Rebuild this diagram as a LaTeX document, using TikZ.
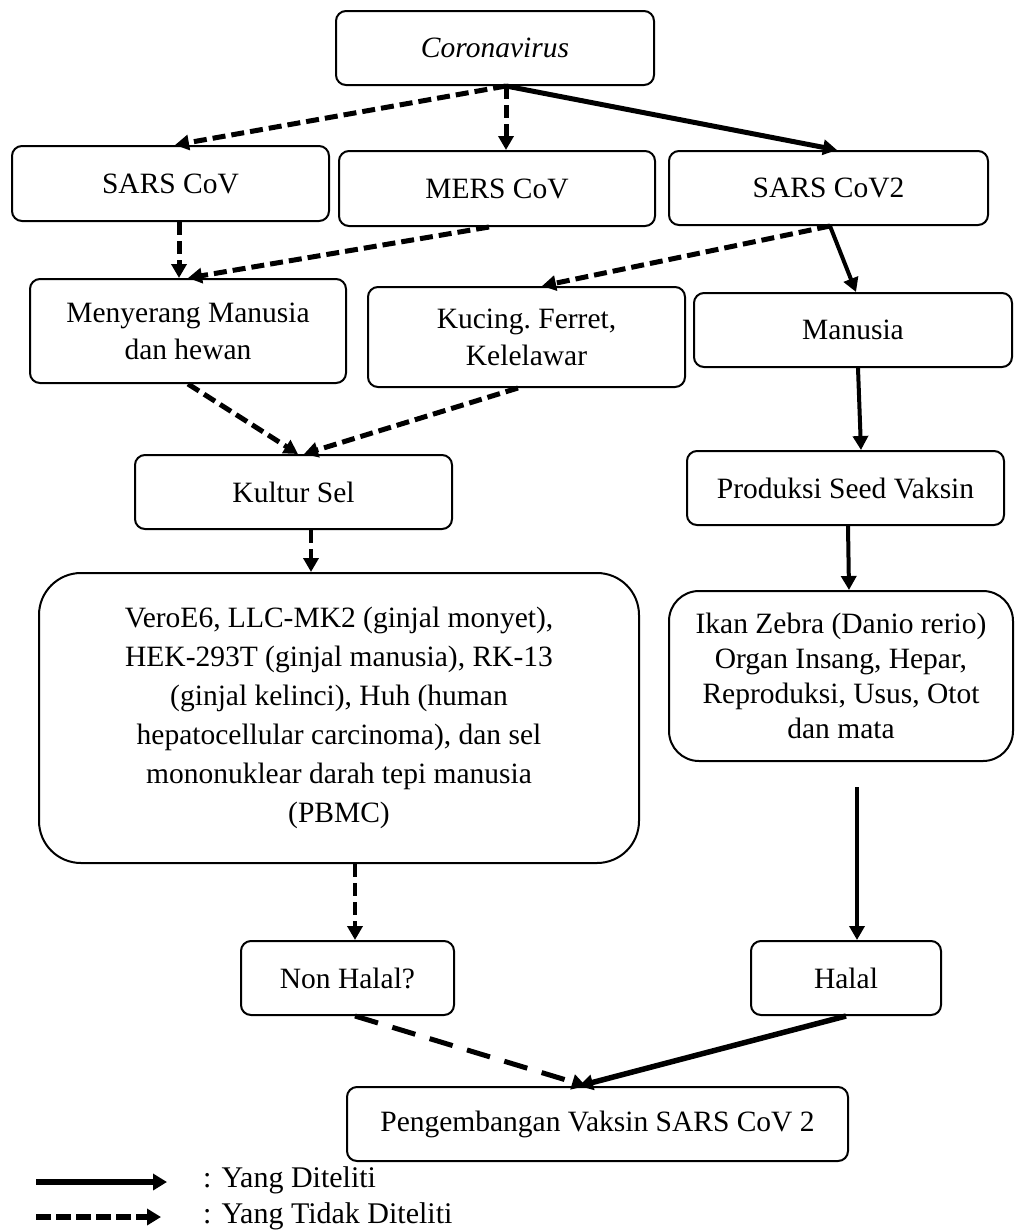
\documentclass[tikz,border=0pt]{standalone}
\usepackage{fontspec}
\setmainfont{Liberation Serif}
\usetikzlibrary{arrows.meta,calc}
\begin{document}
\begin{tikzpicture}[x=1pt,y=-1pt,
  box/.style={draw,line width=2pt,rounded corners=10pt,inner sep=0pt,align=center,
    font=\fontsize{29.5}{37}\selectfont},
  solidarr/.style={line width=4pt,-{Triangle[length=14pt,width=15pt]}},
  dasharr/.style={line width=5pt,dash pattern=on 13pt off 6pt,-{Triangle[length=14pt,width=15pt]}},
  legtext/.style={anchor=west,inner sep=0pt,font=\fontsize{30}{36}\selectfont}
]
\useasboundingbox (0,0) rectangle (1015,1232);
\fill[white] (0,0) rectangle (1015,1232);

\node[box,minimum width=318pt,minimum height=74pt] (corona) at (495,48) {\textit{Coronavirus}};
\node[box,minimum width=317pt,minimum height=75pt] (sars) at (170.5,183.5) {SARS CoV};
\node[box,minimum width=316pt,minimum height=75pt] (mers) at (497,188.5) {MERS CoV};
\node[box,minimum width=319pt,minimum height=74pt] (sars2) at (828.5,188) {SARS CoV2};
\node[box,minimum width=316pt,minimum height=104pt] (meny) at (188,331) {Menyerang Manusia\\dan hewan};
\node[box,minimum width=317pt,minimum height=100pt] (kuc) at (526.5,337) {Kucing.\ Ferret,\\Kelelawar};
\node[box,minimum width=318pt,minimum height=74pt] (man) at (853,330) {Manusia};
\node[box,minimum width=317pt,minimum height=74pt] (kultur) at (293.5,492) {Kultur Sel};
\node[box,minimum width=317pt,minimum height=74pt] (prod) at (845.5,488) {Produksi Seed Vaksin};
\node[box,rounded corners=42pt,minimum width=600pt,minimum height=290pt,
  font=\fontsize{29.5}{39}\selectfont] (big) at (339,718)
  {VeroE6, LLC-MK2 (ginjal monyet),\\HEK-293T (ginjal manusia), RK-13\\(ginjal kelinci), Huh (human\\hepatocellular carcinoma), dan sel\\mononuklear darah tepi manusia\\(PBMC)};
\node[box,rounded corners=30pt,minimum width=344pt,minimum height=170pt,
  font=\fontsize{29.5}{35}\selectfont] (ikan) at (841,676)
  {Ikan Zebra (Danio rerio)\\Organ Insang, Hepar,\\Reproduksi, Usus, Otot\\dan mata};
\node[box,minimum width=213pt,minimum height=74pt] (nonhalal) at (347.5,978) {Non Halal?};
\node[box,minimum width=190pt,minimum height=74pt] (halal) at (846,978) {Halal};
\node[box,minimum width=501pt,minimum height=74pt] (peng) at (597.5,1124) {Pengembangan Vaksin SARS CoV 2};

% connectors
\draw[dasharr] ([xshift=11pt]corona.south) -- ([xshift=4.5pt]sars.north);
\draw[dasharr] ([xshift=11pt]corona.south) -- ([xshift=9pt]mers.north);
\draw[solidarr,line width=5pt] ([xshift=11pt]corona.south) -- ([xshift=8.5pt]sars2.north);
\draw[dasharr] ([xshift=8.5pt]sars.south) -- ([xshift=-9pt]meny.north);
\draw[dasharr] ([xshift=-8pt]mers.south) -- (meny.north);
\draw[dasharr] ([xshift=1.5pt]sars2.south) -- ([xshift=15.5pt]kuc.north);
\draw[solidarr] ([xshift=1.5pt]sars2.south) -- ([xshift=3pt]man.north);
\draw[dasharr] (meny.south) -- ([xshift=4.5pt]kultur.north);
\draw[dasharr] ([xshift=-8.5pt]kuc.south) -- ([xshift=10.5pt]kultur.north);
\draw[solidarr] ([xshift=5pt]man.south) -- ([xshift=15.5pt]prod.north);
\draw[dasharr,line width=4.5pt] ([xshift=17.5pt]kultur.south) -- ([xshift=-28pt]big.north);
\draw[solidarr] ([xshift=2.5pt]prod.south) -- ([xshift=8pt]ikan.north);
\draw[solidarr] ([xshift=16pt,yshift=-25pt]ikan.south) -- ([xshift=11pt]halal.north);
\draw[dasharr,line width=4.5pt] ([xshift=16pt]big.south) -- ([xshift=7.5pt]nonhalal.north);
\draw[dasharr,dash pattern=on 24pt off 15pt] ([xshift=7.5pt]nonhalal.south) -- ([xshift=-11.5pt]peng.north);
\draw[solidarr,line width=5.5pt] (halal.south) -- ([xshift=-18.5pt]peng.north);

% legend
\coordinate (l1a) at (36,1182);
\coordinate (l1b) at (167,1182);
\coordinate (l2a) at (36,1217);
\coordinate (l2b) at (161,1217);
\draw[line width=6pt,-{Triangle[length=14pt,width=16pt]}] (l1a) -- (l1b);
\draw[line width=6pt,dash pattern=on 15pt off 5pt,-{Triangle[length=14pt,width=16pt]}] (l2a) -- (l2b);
\node[legtext] (leg1) at (203,1180) {: Yang Diteliti};
\node[legtext] (leg2) at (203,1216) {: Yang Tidak Diteliti};
\end{tikzpicture}
\end{document}
